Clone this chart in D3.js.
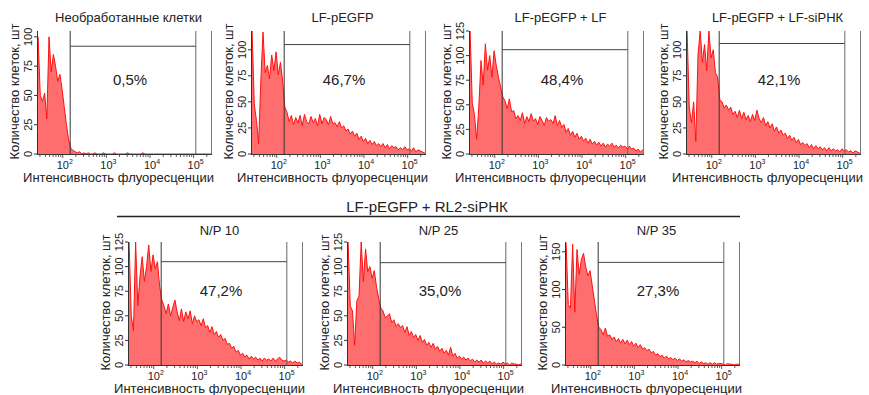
<!DOCTYPE html>
<html><head><meta charset="utf-8">
<script src="https://cdn.jsdelivr.net/npm/d3@7"></script>
<style>body{margin:0;background:#fff} svg{font-family:"Liberation Sans",Arial,sans-serif}</style>
</head><body><svg id="c" width="869" height="395"></svg>
<script>
// ---------- data ----------
const titles = ["Необработанные клетки","LF-pEGFP","LF-pEGFP + LF","LF-pEGFP + LF-siРНК","N/P 10","N/P 25","N/P 35"];
const percents = ["0,5%","46,7%","48,4%","42,1%","47,2%","35,0%","27,3%"];
const groupTitle = "LF-pEGFP + RL2-siРНК";
const xAxisTitle = "Интенсивность флуоресценции";
const yAxisTitle = "Количество клеток, шт";
const yMaxes = [105,118,125,118,125,125,163];
const yTicks = [[0,25,50,75,100],[0,25,50,75,100],[0,25,50,75,100,125],[0,25,50,75,100],[0,25,50,75,100,125],[0,25,50,75,100,125],[0,50,100,150]];
const xTickValues = [100,1000,10000,100000];
const xTickExps = ["2","3","4","5"];
const gateLow = 148, gateHigh = 112000;
const gateLevels = [92,105,106,106,105,104,136];
const binStartLog = 1.41, binWidthLog = 0.05;

const counts1 = [100,50,45,52,30,100,70,85,75,62,68,55,40,25,12,5,3,2,1,2,0,1,0,1,0,0,1,0,0,0,1,0,0,0,0,1,0,0,0,0,0,1,0,0,0,0,0,0,1,0,0,0,0,0,0,0,0,0,0,0,0,0,0,0,0,0,0,0,0,0,0,0,0,0,0,0,0,0,0,0];
const counts2 = [118,48,32,10,70,117,78,85,72,95,80,98,76,88,70,45,
  40,31,37,28,35,30,37,27,38,31,29,36,30,
  34,27,38,29,35,33,28,36,29,30,26,31,25,27,22,24,
  19,22,17,20,14,17,12,15,
  10,13,9,12,8,10,7,10,
  6,9,5,8,6,7,4,6,
  4,7,4,5,3,6,2,4,3,2,1];
const counts3 = [125,52,40,15,48,95,70,112,85,100,78,105,90,78,68,58,
  54,46,56,43,44,
  36,39,34,42,31,38,33,41,
  33,36,30,38,34,29,37,33,35,31,39,29,34,27,30,
  22,26,19,23,17,21,15,18,
  13,16,11,15,10,13,9,
  12,8,11,7,10,8,11,7,9,
  6,9,7,8,5,8,5,
  6,3,5,2,4];
const counts4 = [118,45,30,50,12,95,118,88,105,80,118,92,100,78,74,52,
  50,44,47,42,45,38,
  41,35,42,34,40,33,37,31,
  38,32,42,34,30,35,
  27,31,25,29,22,26,20,23,18,
  20,15,18,13,16,11,14,9,
  11,8,10,6,9,5,8,5,
  7,4,6,3,6,3,5,3,4,
  2,5,3,4,2,3,1,3,2,1];
const counts5 = [125,50,35,125,60,90,110,85,100,122,95,112,98,105,80,66,
  60,52,62,50,58,66,
  54,45,57,44,54,47,55,42,50,44,
  46,40,47,38,
  40,33,39,31,34,28,31,25,27,21,
  22,17,19,13,15,10,
  12,8,10,6,9,6,8,
  5,7,4,7,5,6,4,7,4,6,8,5,
  4,5,3,4,2,4,2,3,1];
const counts6 = [125,60,55,20,65,70,125,85,118,95,100,88,96,80,68,58,
  55,48,50,52,43,46,
  39,42,38,40,33,39,30,34,
  28,31,25,30,23,26,20,
  23,18,22,16,19,14,17,12,
  15,10,18,9,12,7,
  9,6,8,5,7,4,6,3,5,
  3,5,2,4,2,4,1,3,1,2,
  1,3,1,2,0,2,1,1,0,1];
const counts7 = [162,80,75,160,70,153,120,140,148,130,118,125,105,85,65,50,
  47,40,49,38,40,34,
  37,31,35,29,34,28,33,27,
  31,25,29,23,27,21,23,19,
  21,16,18,13,15,11,13,
  9,12,8,10,7,9,6,8,
  5,7,4,6,4,5,3,5,
  2,4,2,3,1,3,1,3,1,2,
  2,1,0,2,1,1,0,1,1];
const allCounts = [counts1,counts2,counts3,counts4,counts5,counts6,counts7];

// ---------- layout ----------
const W = 175, H = 123;
const layout = [
  {x:37, y:31},{x:251, y:31},{x:469, y:31},{x:686, y:31},
  {x:128, y:242},{x:347, y:242},{x:565, y:242}
];

const svg = d3.select("#c");
const txt = "#222", axc = "#333";

svg.append("text").attr("x",427).attr("y",212).attr("text-anchor","middle")
  .attr("font-size",15).attr("fill",txt).text(groupTitle);
svg.append("line").attr("x1",117).attr("x2",740).attr("y1",216.5).attr("y2",216.5)
  .attr("stroke","#222").attr("stroke-width",1.6);

allCounts.forEach((counts,i)=>{
  const L = layout[i];
  const g = svg.append("g").attr("transform",`translate(${L.x},${L.y})`);
  const x = d3.scaleLog().domain([Math.pow(10,1.41),Math.pow(10,5.42)]).range([0,W]);
  const y = d3.scaleLinear().domain([0,yMaxes[i]]).range([H,0]);
  const pts = counts.map((c,k)=>[Math.pow(10,binStartLog+binWidthLog*(k+0.5)), Math.min(c,yMaxes[i])]);
  const full = [[x.domain()[0],pts[0][1]], ...pts, [x.domain()[1],pts[pts.length-1][1]]];
  g.append("defs").append("clipPath").attr("id","cp"+i).append("rect").attr("width",W).attr("height",H+1);
  const hg = g.append("g").attr("clip-path",`url(#cp${i})`);
  hg.append("path").datum(full)
    .attr("d", d3.area().x(d=>x(d[0])).y0(H).y1(d=>y(d[1])))
    .attr("fill","#ff6e6e");
  hg.append("path").datum(full)
    .attr("d", d3.line().x(d=>x(d[0])).y(d=>y(d[1])))
    .attr("fill","none").attr("stroke","#ff1010").attr("stroke-width",1);

  // gate
  const gx1 = x(gateLow), gx2 = x(gateHigh), gy = y(gateLevels[i]);
  g.append("line").attr("x1",gx1).attr("x2",gx1).attr("y1",0).attr("y2",H).attr("stroke","#333").attr("stroke-width",1);
  g.append("line").attr("x1",gx2).attr("x2",gx2).attr("y1",0).attr("y2",H).attr("stroke","#666").attr("stroke-width",1);
  g.append("line").attr("x1",gx1).attr("x2",gx2).attr("y1",gy).attr("y2",gy).attr("stroke","#444").attr("stroke-width",1);

  // frame: left, bottom, right
  g.append("line").attr("x1",0.5).attr("x2",0.5).attr("y1",0).attr("y2",H).attr("stroke",axc);
  g.append("line").attr("x1",0).attr("x2",W).attr("y1",H+0.5).attr("y2",H+0.5).attr("stroke",axc);
  g.append("line").attr("x1",W-0.5).attr("x2",W-0.5).attr("y1",0).attr("y2",H).attr("stroke","#777");

  // x ticks
  const minor = x.ticks().filter(v=>x(v)>=0 && x(v)<=W);
  minor.forEach(v=>{
    const major = xTickValues.includes(v);
    g.append("line").attr("x1",x(v)).attr("x2",x(v)).attr("y1",H+1).attr("y2",H+(major?4:3))
      .attr("stroke",axc).attr("stroke-width",0.8);
  });
  xTickValues.forEach((v,k)=>{
    const t = g.append("text").attr("x",x(v)+2).attr("y",H+15).attr("text-anchor","middle")
      .attr("font-size",11).attr("fill",txt);
    t.append("tspan").text("10");
    t.append("tspan").attr("font-size",7).attr("dy",-5).text(xTickExps[k]);
  });
  g.append("text").attr("x",W/2-6).attr("y",H+28).attr("text-anchor","middle")
    .attr("font-size",13).attr("fill",txt).text(xAxisTitle);

  // y ticks
  yTicks[i].forEach(v=>{
    g.append("line").attr("x1",-3).attr("x2",0).attr("y1",y(v)).attr("y2",y(v)).attr("stroke",axc);
    g.append("text").attr("transform",`translate(-5,${y(v)}) rotate(-90)`).attr("text-anchor","middle")
      .attr("font-size",11).attr("fill",txt).text(v);
  });
  g.append("text").attr("transform",`translate(-18,${H/2-1}) rotate(-90)`).attr("text-anchor","middle")
    .attr("font-size",13).attr("fill",txt).text(yAxisTitle);

  // title & percent
  g.append("text").attr("x",W/2+4).attr("y",i<4?-9:-7).attr("text-anchor","middle")
    .attr("font-size",13).attr("fill",txt).text(titles[i]);
  g.append("text").attr("x",(gx1+gx2)/2-3).attr("y",54).attr("text-anchor","middle")
    .attr("font-size",15).attr("fill",txt).text(percents[i]);
});
</script></body></html>
